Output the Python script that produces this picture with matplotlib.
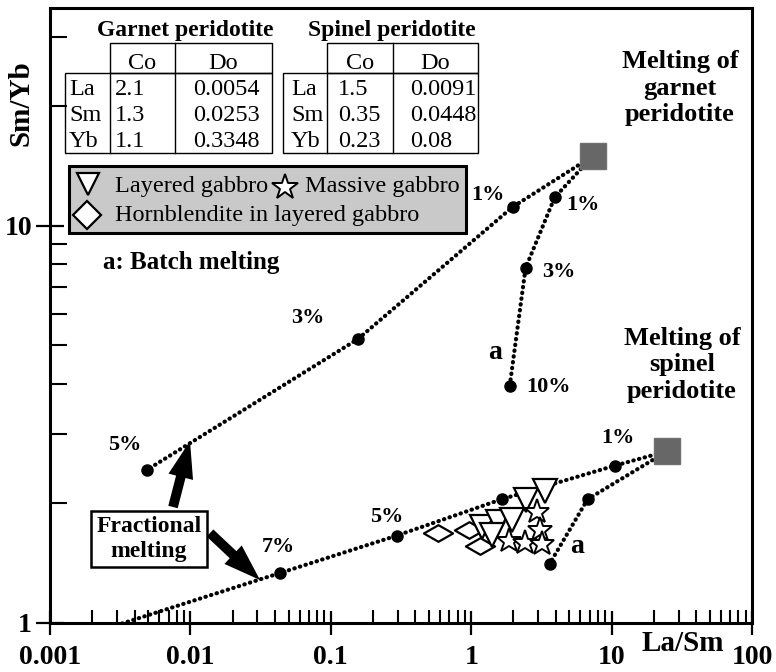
import matplotlib
matplotlib.use("Agg")
import matplotlib.pyplot as plt
import numpy as np
from matplotlib.transforms import Affine2D
from matplotlib.patches import Rectangle, FancyArrowPatch
from matplotlib.path import Path

plt.rcParams['font.family'] = ['Liberation Serif', 'DejaVu Serif']

# source compositions (squares)
garnet_src = (7.35, 15.0)
spinel_src = (25.0, 2.71)

# garnet peridotite, batch melting (curve a)
gb_x = [3.93, 2.44, 1.88]
gb_y = [11.8, 7.84, 3.95]
gb_lab = ['1%', '3%', '10%']

# garnet peridotite, fractional melting
gf_x = [1.97, 0.156, 0.0049]
gf_y = [11.16, 5.19, 2.43]
gf_lab = ['1%', '3%', '5%']

# spinel peridotite, batch melting (curve a)
sb_x = [6.75, 3.62]
sb_y = [2.05, 1.41]

# spinel peridotite, fractional melting
sf_x = [10.5, 1.65, 0.295, 0.0434]
sf_y = [2.49, 2.05, 1.66, 1.336]
sf_lab = ['1%', '', '5%', '7%']
sf_end = (0.0032, 0.995)

# samples
hb_x = [0.578, 0.96, 1.15]
hb_y = [1.69, 1.71, 1.56]
lg_x = [1.19, 1.545, 1.40, 1.94, 2.44, 3.34]
lg_y = [1.75, 1.80, 1.67, 1.82, 2.04, 2.15]
mg_x = [2.92, 3.07, 1.85, 2.40, 3.18]
mg_y = [1.90, 1.71, 1.61, 1.59, 1.58]

# partition table
elements = ['La', 'Sm', 'Yb']
garnet_co = ['2.1', '1.3', '1.1']
garnet_do = ['0.0054', '0.0253', '0.3348']
spinel_co = ['1.5', '0.35', '0.23']
spinel_do = ['0.0091', '0.0448', '0.08']

W, H = 776, 672
fig = plt.figure(figsize=(W / 100, H / 100), dpi=100)
ax = fig.add_axes([50 / W, 49 / H, 702 / W, 615 / H])
ax.set_xscale('log')
ax.set_yscale('log')
ax.set_xlim(0.001, 100)
ax.set_ylim(1, 35.4)

# pixel coords measured from top-left, for the decorations
tp = Affine2D().scale(1, -1).translate(0, H)

dot = dict(color='black', lw=3.0, linestyle=(0, (0.1, 1.3)), dash_capstyle='round', zorder=2)

# lines
ax.plot([garnet_src[0]] + gb_x, [garnet_src[1]] + gb_y, **dot)
ax.plot([garnet_src[0]] + gf_x, [garnet_src[1]] + gf_y, **dot)
ax.plot([spinel_src[0]] + sb_x, [spinel_src[1]] + sb_y, **dot)
ax.plot([spinel_src[0]] + sf_x + [sf_end[0]], [spinel_src[1]] + sf_y + [sf_end[1]], **dot)

for xs, ys in [(gb_x, gb_y), (gf_x, gf_y), (sb_x, sb_y), (sf_x, sf_y)]:
    ax.plot(xs, ys, 'o', color='black', ms=8, zorder=3, ls='none')

ax.plot([garnet_src[0], spinel_src[0]], [garnet_src[1], spinel_src[1]], 's',
        color='#676767', mec='#707070', ms=18.5, ls='none', zorder=4)

# percent labels
lab = dict(textcoords='offset pixels', ha='center', va='center',
           fontsize=16, fontweight='bold', zorder=5)
gb_off = [(28, -8), (33, -4), (39, -1)]
gf_off = [(-25, 12), (-50, 21), (-22, 25)]
sf_off = [(3, 28), (0, 0), (-10, 19), (-2, 26)]
for xs, ys, labs, offs in [(gb_x, gb_y, gb_lab, gb_off), (gf_x, gf_y, gf_lab, gf_off),
                           (sf_x, sf_y, sf_lab, sf_off)]:
    for x, y, s, o in zip(xs, ys, labs, offs):
        if s:
            ax.annotate(s, (x, y), xytext=o, **lab)
ax.annotate('a', (gb_x[-1], gb_y[-1]), xytext=(-15, 34), textcoords='offset pixels',
            ha='center', va='center', fontsize=20, fontweight='bold')
ax.annotate('a', (sb_x[-1], sb_y[-1]), xytext=(27, 17), textcoords='offset pixels',
            ha='center', va='center', fontsize=20, fontweight='bold')

# samples
flat_diamond = Path([(-1, 0), (0, 0.57), (1, 0), (0, -0.57), (-1, 0)],
                    [Path.MOVETO, Path.LINETO, Path.LINETO, Path.LINETO, Path.CLOSEPOLY])
ax.plot(hb_x, hb_y, marker=flat_diamond, ms=21, mfc='white', mec='black', mew=1.6,
        ls='none', zorder=6)
ax.plot(lg_x, lg_y, 'v', ms=17, mfc='white', mec='black', mew=1.6, ls='none', zorder=7)
ax.plot(mg_x, mg_y, '*', ms=18.5, mfc='white', mec='black', mew=1.4, ls='none', zorder=8)

# axes styling
for sp in ax.spines.values():
    sp.set_linewidth(2.2)
ax.tick_params(which='major', direction='inout', length=17, width=1.6, pad=7,
               labelsize=20, top=False, right=False)
ax.tick_params(axis='y', which='major', length=20, pad=3)
ax.tick_params(axis='x', which='minor', direction='in', length=9.5, width=1.5)
ax.tick_params(axis='y', which='minor', direction='in', length=12, width=1.5)
ax.set_xticks([0.001, 0.01, 0.1, 1, 10, 100])
ax.set_xticklabels(['0.001', '0.01', '0.1', '1', '10', '100'])
ax.set_yticks([1, 10])
ax.set_yticklabels(['1', '10'])
ax.set_yticks([2, 3, 4, 5, 6, 7, 8, 9, 20, 30], minor=True)
ax.yaxis.set_minor_formatter(plt.NullFormatter())
for t in ax.get_xticklabels() + ax.get_yticklabels():
    t.set_fontweight('bold')

ax.set_xlabel('La/Sm', fontsize=21, fontweight='bold')
ax.xaxis.set_label_coords(0.9017, -0.012)
ax.set_ylabel('Sm/Yb', fontsize=21, fontweight='bold')
ax.yaxis.set_label_coords(-0.022, 0.846)

# region captions
ax.text(680, 88, 'Melting of\ngarnet\nperidotite', transform=tp, ha='center', va='center',
        fontsize=19, fontweight='bold', linespacing=1.2)
ax.text(682, 365, 'Melting of\nspinel\nperidotite', transform=tp, ha='center', va='center',
        fontsize=19, fontweight='bold', linespacing=1.2)
ax.text(103, 269, 'a: Batch melting', transform=tp, ha='left', va='baseline',
        fontsize=18, fontweight='bold')

# fractional melting box + arrows
ax.text(149, 539, 'Fractional\nmelting', transform=tp, ha='center', va='center',
        fontsize=17, fontweight='bold', linespacing=1.2, zorder=9,
        bbox=dict(boxstyle='square,pad=0.22', fc='white', ec='black', lw=1.8))
arrow_style = 'simple,head_length=1.9,head_width=1.3,tail_width=0.5'
for a, b in [((173, 507), (190, 441)), ((210, 533), (260, 580))]:
    ax.add_patch(FancyArrowPatch(a, b, transform=tp, arrowstyle=arrow_style,
                                 mutation_scale=14, color='black', lw=0,
                                 shrinkA=0, shrinkB=0, clip_on=False, zorder=8))

# tables
def draw_table(x0, xl, xc, x1, title, tx, co, do, co_x, do_x, name_x):
    lw = 1.0
    ax.add_patch(Rectangle((xl, 43), x1 - xl, 30, transform=tp, fill=False, lw=lw, clip_on=False))
    ax.add_patch(Rectangle((x0, 73), x1 - x0, 80, transform=tp, fill=False, lw=lw, clip_on=False))
    ax.plot([xc, xc], [43, 153], transform=tp, color='black', lw=lw, clip_on=False)
    ax.plot([xl, xl], [73, 153], transform=tp, color='black', lw=lw, clip_on=False)
    ax.text(tx, 36, title, transform=tp, ha='center', va='baseline', fontsize=17, fontweight='bold')
    ax.text((xl + xc) / 2, 69, 'Co', transform=tp, ha='center', va='baseline', fontsize=17.5)
    ax.text((xc + x1) / 2, 69, 'Do', transform=tp, ha='center', va='baseline', fontsize=17.5)
    for i, (el, c, d) in enumerate(zip(elements, co, do)):
        yb = 95 + i * 26
        ax.text(name_x, yb, el, transform=tp, ha='left', va='baseline', fontsize=17.5)
        ax.text(co_x, yb, c, transform=tp, ha='left', va='baseline', fontsize=17.5)
        ax.text(do_x, yb, d, transform=tp, ha='left', va='baseline', fontsize=17.5)

draw_table(65, 110, 175, 272, 'Garnet peridotite', 185, garnet_co, garnet_do, 115, 193, 69)
draw_table(283, 327, 393, 478, 'Spinel peridotite', 392, spinel_co, spinel_do, 338, 410, 291)

# legend box
ax.add_patch(Rectangle((69, 166), 397, 67, transform=tp, fc='#c9c9c9', ec='black', lw=2.2,
                       clip_on=False, zorder=5))
ax.plot([88], [184], 'v', transform=tp, ms=16.5, mfc='white', mec='black', mew=1.6,
        clip_on=False, zorder=6)
ax.plot([285], [187], '*', transform=tp, ms=19, mfc='white', mec='black', mew=1.4,
        clip_on=False, zorder=6)
ax.plot([87], [215], 'D', transform=tp, ms=14, mfc='white', mec='black', mew=1.6,
        clip_on=False, zorder=6)
ax.text(115, 192, 'Layered gabbro', transform=tp, va='baseline', fontsize=17.5, zorder=6)
ax.text(305, 192, 'Massive gabbro', transform=tp, va='baseline', fontsize=17.5, zorder=6)
ax.text(115, 221, 'Hornblendite in layered gabbro', transform=tp, va='baseline',
        fontsize=17.5, zorder=6)

fig.savefig('out.png', dpi=100)
